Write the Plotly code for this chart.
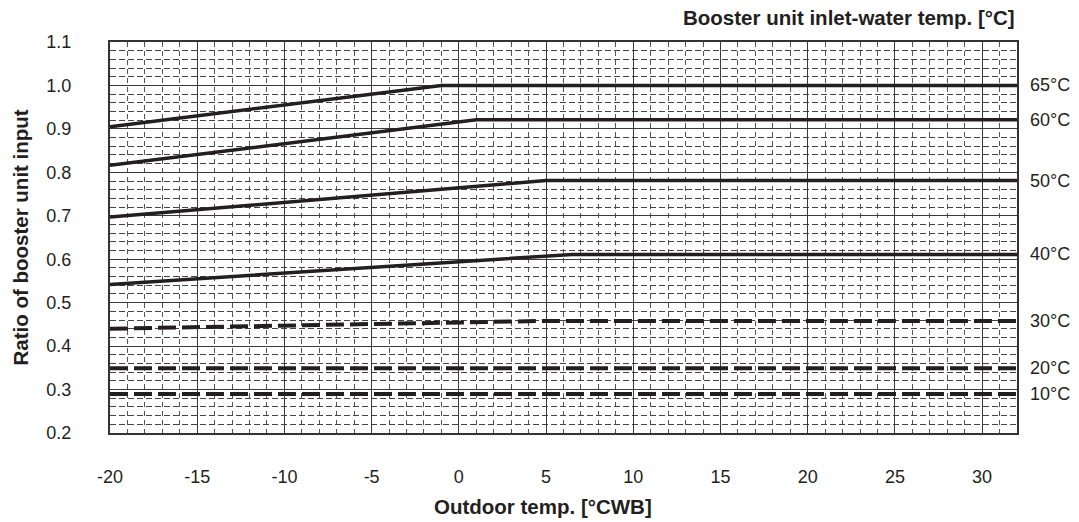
import plotly.graph_objects as go

# ---- data ----
x_65 = [-20, -1, 32]
y_65 = [0.905, 1.0, 1.0]
x_60 = [-20, 1, 32]
y_60 = [0.816, 0.921, 0.921]
x_50 = [-20, 5, 32]
y_50 = [0.697, 0.781, 0.781]
x_40 = [-20, 6.5, 32]
y_40 = [0.542, 0.611, 0.611]
x_30 = [-20, 5, 32]
y_30 = [0.44, 0.458, 0.458]
x_20 = [-20, 32]
y_20 = [0.349, 0.349]
x_10 = [-20, 32]
y_10 = [0.29, 0.29]

series_names = ["65°C", "60°C", "50°C", "40°C", "30°C", "20°C", "10°C"]
series_x = [x_65, x_60, x_50, x_40, x_30, x_20, x_10]
series_y = [y_65, y_60, y_50, y_40, y_30, y_20, y_10]
series_dashed = [False, False, False, False, True, True, True]

x_ticks = [-20, -15, -10, -5, 0, 5, 10, 15, 20, 25, 30]
y_ticks = [0.2, 0.3, 0.4, 0.5, 0.6, 0.7, 0.8, 0.9, 1.0, 1.1]

x_title = "Outdoor temp. [°CWB]"
y_title = "Ratio of booster unit input"
legend_title = "Booster unit inlet-water temp. [°C]"

INK = "#231f20"
FONT = "Liberation Sans, Arial, sans-serif"

fig = go.Figure()
for name, xs, ys, dashed in zip(series_names, series_x, series_y, series_dashed):
    fig.add_trace(go.Scatter(
        x=xs, y=ys, mode="lines", name=name,
        line=dict(color=INK, width=4 if dashed else 3.5,
                  dash="18px,6px" if dashed else "solid"),
        showlegend=False, hoverinfo="skip",
    ))
    fig.add_annotation(
        x=1, xref="paper", y=ys[-1], yref="y", text=name, showarrow=False,
        xanchor="left", yanchor="middle", xshift=11,
        font=dict(family=FONT, size=18, color=INK),
    )

fig.add_annotation(x=1, xref="paper", y=1.0614, yref="paper", text="<b>%s</b>" % legend_title,
                   showarrow=False, xanchor="right", yanchor="middle",
                   font=dict(family=FONT, size=20.5, color=INK))
fig.add_annotation(x=0.4774, xref="paper", y=-0.1885, yref="paper", text="<b>%s</b>" % x_title,
                   showarrow=False, xanchor="center", yanchor="middle",
                   font=dict(family=FONT, size=20.5, color=INK))
fig.add_annotation(x=-0.0992, xref="paper", y=0.5, yref="paper", text="<b>%s</b>" % y_title,
                   showarrow=False, xanchor="center", yanchor="middle", textangle=-90,
                   font=dict(family=FONT, size=20.5, color=INK))

fig.update_layout(
    width=1079, height=522,
    margin=dict(l=110, r=62, t=42, b=89),
    paper_bgcolor="white", plot_bgcolor="white",
    font=dict(family=FONT, size=18, color=INK),
    xaxis=dict(
        range=[-20, 32], tickvals=x_ticks, ticktext=[str(v) for v in x_ticks],
        showgrid=True, gridcolor="#3a3a3a", gridwidth=1,
        minor=dict(dtick=1, tick0=0, showgrid=True, gridcolor="#555555", gridwidth=1, griddash="5px,4px"),
        showline=True, mirror=True, linecolor="#333333", linewidth=2,
        ticks="outside", ticklen=26, tickcolor="rgba(0,0,0,0)",
        zeroline=False, tickfont=dict(size=18, color=INK),
    ),
    yaxis=dict(
        range=[0.2, 1.1], tickvals=y_ticks, ticktext=["%.1f" % v for v in y_ticks],
        showgrid=True, gridcolor="#3a3a3a", gridwidth=1,
        minor=dict(dtick=0.02, tick0=0.2, showgrid=True, gridcolor="#444444", gridwidth=1, griddash="6px,3px"),
        showline=True, mirror=True, linecolor="#333333", linewidth=2,
        ticks="outside", ticklen=33, tickcolor="rgba(0,0,0,0)",
        zeroline=False, tickfont=dict(size=18, color=INK),
    ),
)

fig.write_html("out.html", config={"displayModeBar": False},
               post_script="document.body.style.margin='0';")
